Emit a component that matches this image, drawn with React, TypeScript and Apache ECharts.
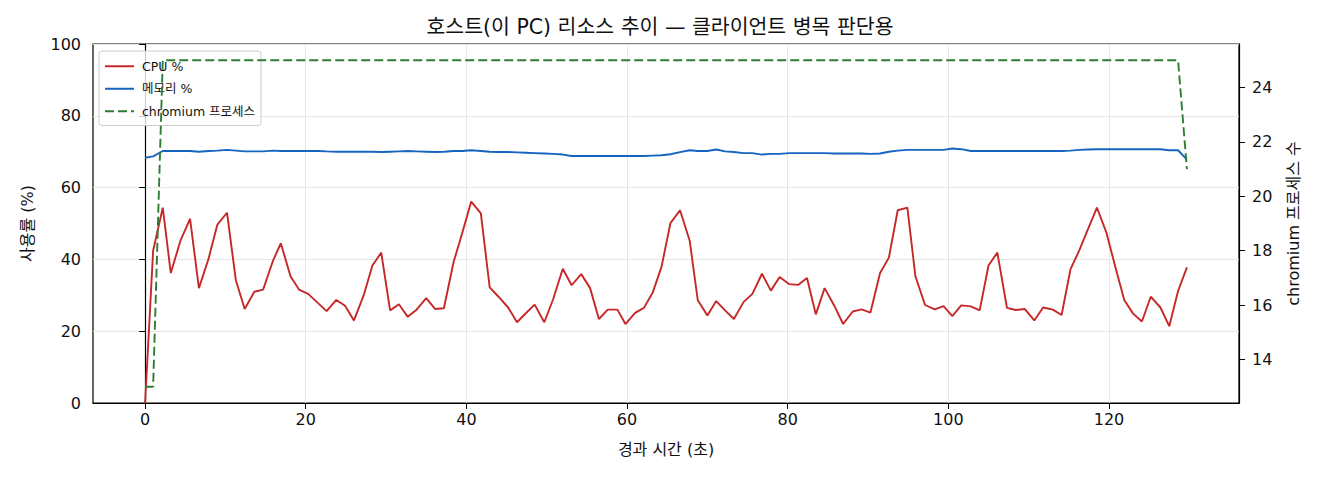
import { useEffect, useRef } from 'react'
import * as echarts from 'echarts'

// Labels
const TITLE = '호스트(이 PC) 리소스 추이 — 클라이언트 병목 판단용'
const X_NAME = '경과 시간 (초)'
const Y_LEFT_NAME = '사용률 (%)'
const Y_RIGHT_NAME = 'chromium 프로세스 수'
const SERIES_NAMES = ['CPU %', '메모리 %', 'chromium 프로세스']

// Tick values
const X_TICKS = [0, 20, 40, 60, 80, 100, 120]
const RIGHT_TICKS = [14, 16, 18, 20, 22, 24]

// Elapsed time of each sample (seconds)
const TIME_S = [
  0, 1.0, 2.2, 3.2, 4.4, 5.6, 6.7, 7.9, 9.0, 10.2,
  11.3, 12.4, 13.6, 14.7, 15.9, 16.9, 18.1, 19.2, 20.3, 21.5,
  22.6, 23.8, 24.9, 26.0, 27.2, 28.3, 29.4, 30.5, 31.6, 32.7,
  33.8, 35.0, 36.1, 37.2, 38.4, 39.5, 40.6, 41.8, 42.9, 44.0,
  45.2, 46.3, 47.4, 48.5, 49.7, 50.8, 52.0, 53.1, 54.3, 55.4,
  56.5, 57.6, 58.8, 59.8, 61.0, 62.1, 63.2, 64.3, 65.4, 66.6,
  67.8, 68.8, 70.0, 71.1, 72.2, 73.3, 74.5, 75.6, 76.8, 77.9,
  79.0, 80.2, 81.3, 82.4, 83.5, 84.6, 85.8, 86.9, 88.1, 89.2,
  90.3, 91.5, 92.6, 93.7, 94.9, 95.9, 97.1, 98.3, 99.4, 100.5,
  101.6, 102.8, 103.9, 105.0, 106.1, 107.3, 108.4, 109.5, 110.7, 111.8,
  113.0, 114.1, 115.2, 116.3, 117.4, 118.5, 119.7, 120.8, 121.9, 123.0,
  124.1, 125.2, 126.4, 127.5, 128.6, 129.7,
]

const CPU_PCT = [
  0, 42.4, 54.4, 36.2, 45.2, 51.3, 32.0, 40.2, 49.7, 53.0,
  34.2, 26.2, 31.0, 31.6, 39.5, 44.5, 35.3, 31.5, 30.4, 27.9,
  25.6, 28.7, 27.1, 23.0, 29.9, 38.3, 41.9, 25.8, 27.5, 24.0,
  26.0, 29.2, 26.2, 26.4, 39.2, 47.5, 56.1, 52.8, 32.2, 29.6,
  26.6, 22.5, 25.0, 27.4, 22.5, 28.9, 37.4, 32.8, 35.9, 32.0,
  23.4, 26.0, 26.0, 22.0, 25.1, 26.5, 30.8, 38.0, 50.1, 53.7,
  45.2, 28.7, 24.4, 28.4, 25.8, 23.4, 28.1, 30.4, 36.0, 31.3,
  35.1, 33.1, 32.9, 34.8, 24.7, 32.0, 27.1, 22.0, 25.5, 26.1,
  25.2, 36.2, 40.5, 53.7, 54.4, 35.3, 27.3, 26.1, 27.0, 24.2,
  27.2, 26.9, 25.8, 38.3, 41.9, 26.5, 25.9, 26.2, 23.0, 26.6,
  26.0, 24.5, 37.2, 42.5, 48.5, 54.4, 47.3, 37.8, 28.7, 24.9,
  22.7, 29.6, 26.6, 21.4, 31.2, 37.8,
]

const MEM_PCT = [
  68.3, 68.7, 70.2, 70.2, 70.2, 70.2, 70.0, 70.2, 70.3, 70.5,
  70.3, 70.1, 70.1, 70.1, 70.3, 70.2, 70.2, 70.2, 70.2, 70.2,
  70.1, 70.0, 70.0, 70.0, 70.0, 70.0, 69.9, 70.0, 70.1, 70.2,
  70.1, 70.0, 69.9, 70.0, 70.2, 70.2, 70.4, 70.2, 70.0, 69.9,
  69.9, 69.8, 69.7, 69.6, 69.5, 69.4, 69.2, 68.8, 68.8, 68.8,
  68.8, 68.8, 68.8, 68.8, 68.8, 68.8, 68.9, 69.0, 69.3, 69.9,
  70.4, 70.2, 70.2, 70.6, 70.1, 69.9, 69.6, 69.6, 69.2, 69.4,
  69.4, 69.6, 69.6, 69.6, 69.6, 69.6, 69.5, 69.5, 69.5, 69.5,
  69.4, 69.5, 70.0, 70.3, 70.5, 70.5, 70.5, 70.5, 70.5, 70.9,
  70.7, 70.2, 70.2, 70.2, 70.2, 70.2, 70.2, 70.2, 70.2, 70.2,
  70.2, 70.2, 70.3, 70.5, 70.6, 70.7, 70.7, 70.7, 70.7, 70.7,
  70.7, 70.7, 70.7, 70.4, 70.4, 67.8,
]

const CHROMIUM_PROCS = [
  13, 13, 25, 25, 25, 25, 25, 25, 25, 25,
  25, 25, 25, 25, 25, 25, 25, 25, 25, 25,
  25, 25, 25, 25, 25, 25, 25, 25, 25, 25,
  25, 25, 25, 25, 25, 25, 25, 25, 25, 25,
  25, 25, 25, 25, 25, 25, 25, 25, 25, 25,
  25, 25, 25, 25, 25, 25, 25, 25, 25, 25,
  25, 25, 25, 25, 25, 25, 25, 25, 25, 25,
  25, 25, 25, 25, 25, 25, 25, 25, 25, 25,
  25, 25, 25, 25, 25, 25, 25, 25, 25, 25,
  25, 25, 25, 25, 25, 25, 25, 25, 25, 25,
  25, 25, 25, 25, 25, 25, 25, 25, 25, 25,
  25, 25, 25, 25, 25, 21,
]

const FONT = "'DejaVu Sans', 'Noto Sans CJK KR', sans-serif"
const TEXT = '#111111'

export default function App() {
  const chartRef = useRef<HTMLDivElement>(null)

  useEffect(() => {
    if (!chartRef.current) return

    const chart = echarts.init(chartRef.current, undefined, { renderer: 'svg' })

    const pairs = (ys: number[]) => TIME_S.map((t, i) => [t, ys[i]])

    const tickLabel = {
      color: TEXT,
      fontFamily: FONT,
      fontSize: 16,
    }

    const option = {
      animation: false,
      backgroundColor: '#ffffff',
      textStyle: { fontFamily: FONT },
      title: {
        text: TITLE,
        left: 'center',
        top: 17,
        padding: [0, 0, 0, 12],
        textStyle: {
          color: TEXT,
          fontFamily: FONT,
          fontSize: 20.5,
          fontWeight: 'normal',
        },
      },
      legend: {
        data: SERIES_NAMES,
        orient: 'vertical',
        left: 99,
        top: 51,
        z: 1,
        padding: [9, 6, 8, 5],
        itemWidth: 29,
        itemHeight: 14,
        itemGap: 10,
        backgroundColor: 'rgba(255,255,255,0.8)',
        borderColor: '#cccccc',
        borderWidth: 1,
        borderRadius: 3,
        // hide the marker dot, keep only the line sample
        itemStyle: { opacity: 0 },
        textStyle: {
          color: TEXT,
          fontFamily: FONT,
          fontSize: 12.5,
          padding: [0, 0, 0, 3],
        },
      },
      grid: {
        left: 93,
        right: 81,
        top: 44,
        bottom: 77,
        show: true,
        borderColor: '#000000',
        borderWidth: 1.2,
        backgroundColor: 'transparent',
      },
      xAxis: {
        type: 'value',
        min: -6.485,
        max: 136.185,
        splitNumber: 7,
        name: X_NAME,
        nameLocation: 'middle',
        nameGap: 38,
        nameTextStyle: { color: TEXT, fontFamily: FONT, fontSize: 16 },
        axisLine: { show: true, lineStyle: { color: '#000000', width: 1.2 } },
        axisTick: {
          show: true,
          length: 6,
          customValues: X_TICKS,
          lineStyle: { color: '#000000', width: 1 },
        },
        axisLabel: { ...tickLabel, margin: 8, customValues: X_TICKS },
        splitLine: { show: true, lineStyle: { color: '#e6e6e6', width: 1 } },
      },
      yAxis: [
        {
          type: 'value',
          min: 0,
          max: 100,
          interval: 20,
          name: Y_LEFT_NAME,
          nameLocation: 'middle',
          nameRotate: 90,
          nameGap: 58,
          nameTextStyle: { color: TEXT, fontFamily: FONT, fontSize: 16 },
          axisLine: { show: true, lineStyle: { color: '#000000', width: 1.2 } },
          axisTick: { show: true, length: 6, lineStyle: { color: '#000000', width: 1 } },
          axisLabel: { ...tickLabel, margin: 12 },
          splitLine: { show: true, lineStyle: { color: '#e6e6e6', width: 1 } },
        },
        {
          type: 'value',
          position: 'right',
          min: 12.4,
          max: 25.6,
          name: Y_RIGHT_NAME,
          nameLocation: 'middle',
          nameRotate: 90,
          nameGap: 46,
          nameTextStyle: { color: TEXT, fontFamily: FONT, fontSize: 16 },
          axisLine: { show: true, lineStyle: { color: '#000000', width: 1.2 } },
          axisTick: {
            show: true,
            length: 6,
            customValues: RIGHT_TICKS,
            lineStyle: { color: '#000000', width: 1 },
          },
          axisLabel: { ...tickLabel, margin: 13, customValues: RIGHT_TICKS },
          splitLine: { show: false },
        },
      ],
      series: [
        {
          name: SERIES_NAMES[0],
          type: 'line',
          yAxisIndex: 0,
          data: pairs(CPU_PCT),
          symbol: 'none',
          z: 2,
          itemStyle: { color: '#c62828' },
          lineStyle: { color: '#c62828', width: 1.9 },
        },
        {
          name: SERIES_NAMES[1],
          type: 'line',
          yAxisIndex: 0,
          data: pairs(MEM_PCT),
          symbol: 'none',
          z: 2,
          itemStyle: { color: '#1565c0' },
          lineStyle: { color: '#1565c0', width: 1.9 },
        },
        {
          name: SERIES_NAMES[2],
          type: 'line',
          yAxisIndex: 1,
          data: pairs(CHROMIUM_PROCS),
          symbol: 'none',
          z: 5,
          itemStyle: { color: '#2e7d32' },
          lineStyle: { color: '#2e7d32', width: 1.9, type: [9, 4] },
        },
      ],
    }

    chart.setOption(option)

    return () => {
      chart.dispose()
    }
  }, [])

  return (
    <div
      ref={chartRef}
      style={{ position: 'absolute', left: 0, top: 0, width: 1320, height: 480 }}
    />
  )
}
